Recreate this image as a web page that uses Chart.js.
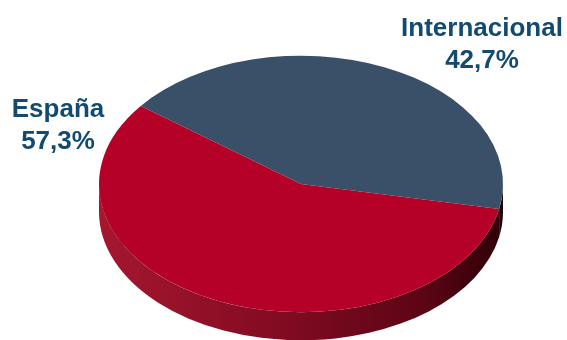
<!DOCTYPE html>
<html>
<head>
<meta charset="utf-8">
<script src="https://cdn.jsdelivr.net/npm/chart.js@4.4.1/dist/chart.umd.min.js"></script>
<style>
  html, body { margin: 0; padding: 0; background: #ffffff; }
  #wrap { width: 567px; height: 340px; }
</style>
</head>
<body>
<div id="wrap"><canvas id="pieChart" width="567" height="340"></canvas></div>
<script>
// Datos del gráfico
const categorias = ['Internacional', 'España'];
const valores = [42.7, 57.3];
const coloresTapa = ['#3a5068', '#b50027'];

// Aspecto 3D (inclinación y grosor)
const inclinacion = 0.635;
const grosor = 28;

function textoPct(v) {
    return v.toFixed(1).replace('.', ',') + '%';
}

// Dibuja el canto del queso y luego la tapa aplastada
const pie3d = {
    id: 'pie3d',
    beforeDatasetDraw() {
        return false; // lo dibujamos nosotros abajo
    },
    afterDatasetsDraw(chart) {
        const ctx = chart.ctx;
        const meta = chart.getDatasetMeta(0);
        // mismo orden que categorias
        const sideStops = [
            [['0', '#2e0a12'], ['1', '#1e0408']],
            [['0', '#a5172f'], ['0.45', '#820b22'], ['0.8', '#5c0515'], ['1', '#2e0008']]
        ];

        meta.data.forEach((arc, i) => {
            const p = arc.getProps(['x', 'y', 'startAngle', 'endAngle', 'outerRadius']);
            const ry = p.outerRadius * inclinacion;
            const grad = ctx.createLinearGradient(p.x - p.outerRadius, 0, p.x + p.outerRadius, 0);
            sideStops[i].forEach(s => grad.addColorStop(+s[0], s[1]));
            for (let k = -2; k <= 2; k++) {
                const lo = Math.max(p.startAngle, 2 * Math.PI * k);
                const hi = Math.min(p.endAngle, Math.PI + 2 * Math.PI * k);
                if (hi <= lo) continue;
                const a0 = lo - 2 * Math.PI * k, a1 = hi - 2 * Math.PI * k;
                ctx.save();
                ctx.beginPath();
                ctx.ellipse(p.x, p.y, p.outerRadius, ry, 0, a0, a1, false);
                ctx.ellipse(p.x, p.y + grosor, p.outerRadius, ry, 0, a1, a0, true);
                ctx.closePath();
                ctx.fillStyle = grad;
                ctx.fill();
                ctx.restore();
            }
        });

        // tapa superior
        const c = meta.data[0];
        ctx.save();
        ctx.translate(c.x, c.y);
        ctx.scale(1, inclinacion);
        ctx.translate(-c.x, -c.y);
        meta.data.forEach(arc => arc.draw(ctx));
        ctx.restore();
    },
    afterDraw(chart) {
        const ctx = chart.ctx;
        const anclas = [[482, 36], [58, 117]];
        ctx.save();
        ctx.fillStyle = '#134a72';
        ctx.textAlign = 'center';
        ctx.textBaseline = 'alphabetic';
        ctx.font = 'bold 26px "Liberation Sans", Arial, sans-serif';
        categorias.forEach((cat, i) => {
            const [ax, ay] = anclas[i];
            ctx.fillText(cat, ax, ay);
            ctx.fillText(textoPct(valores[i]), ax, ay + 32);
        });
        ctx.restore();
    }
};

const ctxPie = document.getElementById('pieChart').getContext('2d');
const pieChart = new Chart(ctxPie, {
    type: 'pie',
    data: {
        labels: categorias,
        datasets: [{
            data: valores,
            backgroundColor: coloresTapa,
            borderWidth: 0,
            radius: 202,
            rotation: -52.5
        }]
    },
    options: {
        responsive: false,
        animation: false,
        events: [],
        layout: { padding: { left: 35, top: 28, right: 0, bottom: 0 } },
        plugins: {
            legend: { display: false },
            tooltip: { enabled: false }
        }
    },
    plugins: [pie3d]
});
</script>
</body>
</html>
